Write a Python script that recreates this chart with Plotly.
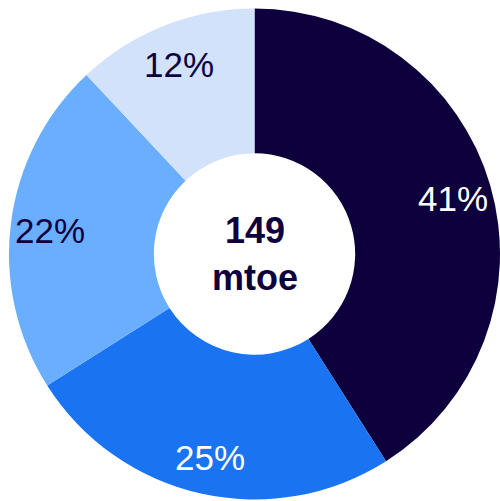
import math
import plotly.graph_objects as go

labels = ["A", "B", "C", "D"]
values = [41, 25, 22, 12]
colors = ["#0e003c", "#1a73f0", "#6aaeff", "#d2e2fa"]
text_colors = ["white", "white", "#0e003c", "#0e003c"]
center_lines = ["149", "mtoe"]

W, H = 500, 501
ML, MR, MT, MB = 9, 0, 8, 1
pw, ph = W - ML - MR, H - MT - MB
R = min(pw, ph) / 2
cx, cy = ML + pw / 2, MT + ph / 2
label_r = 0.84 * R

fig = go.Figure(go.Pie(
    labels=labels, values=values, hole=0.41, sort=False, direction="clockwise",
    rotation=0,
    marker=dict(colors=colors, line=dict(width=0)),
    textinfo="none", hoverinfo="label+percent",
    showlegend=False,
))

annotations = []
total = sum(values)
cum = 0
for v, tc in zip(values, text_colors):
    mid = (cum + v / 2) / total * 2 * math.pi
    cum += v
    px = cx + label_r * math.sin(mid)
    py = cy - label_r * math.cos(mid) + 2
    annotations.append(dict(
        text=f"{round(v / total * 100)}%", x=(px - ML) / pw, y=1 - (py - MT) / ph,
        xref="paper", yref="paper", showarrow=False, xanchor="center", yanchor="middle",
        font=dict(family="Liberation Sans, Arial", size=35, color=tc)))

annotations.append(dict(
    text="<b>" + "<br>".join(center_lines) + "</b>", x=0.5, y=0.5,
    xref="paper", yref="paper", showarrow=False, xanchor="center", yanchor="middle",
    font=dict(family="Liberation Sans, Arial", size=36, color="#0e003c")))

fig.update_layout(
    width=W, height=H, margin=dict(l=ML, r=MR, t=MT, b=MB),
    paper_bgcolor="white",
    annotations=annotations,
)
fig.write_html(
    "out.html",
    config={"displayModeBar": False},
    post_script=(
        "document.body.style.margin='0';"
        "document.body.style.overflow='hidden';"
        "document.documentElement.style.overflow='hidden';"
    ),
)
